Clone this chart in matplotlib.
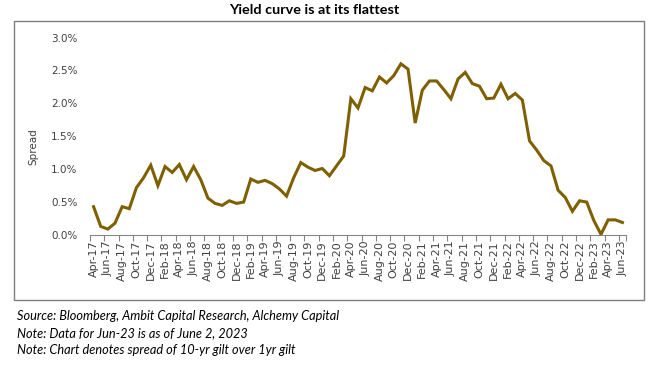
import matplotlib
matplotlib.use("Agg")
import matplotlib.pyplot as plt
from matplotlib.patches import Rectangle

months = ["Apr-17","May-17","Jun-17","Jul-17","Aug-17","Sep-17","Oct-17","Nov-17","Dec-17",
          "Jan-18","Feb-18","Mar-18","Apr-18","May-18","Jun-18","Jul-18","Aug-18","Sep-18","Oct-18","Nov-18","Dec-18",
          "Jan-19","Feb-19","Mar-19","Apr-19","May-19","Jun-19","Jul-19","Aug-19","Sep-19","Oct-19","Nov-19","Dec-19",
          "Jan-20","Feb-20","Mar-20","Apr-20","May-20","Jun-20","Jul-20","Aug-20","Sep-20","Oct-20","Nov-20","Dec-20",
          "Jan-21","Feb-21","Mar-21","Apr-21","May-21","Jun-21","Jul-21","Aug-21","Sep-21","Oct-21","Nov-21","Dec-21",
          "Jan-22","Feb-22","Mar-22","Apr-22","May-22","Jun-22","Jul-22","Aug-22","Sep-22","Oct-22","Nov-22","Dec-22",
          "Jan-23","Feb-23","Mar-23","Apr-23","May-23","Jun-23"]
spread = [0.43,0.13,0.09,0.18,0.43,0.40,0.72,0.87,1.06,
          0.75,1.04,0.95,1.07,0.84,1.04,0.84,0.56,0.48,0.45,0.52,0.48,
          0.50,0.85,0.80,0.83,0.78,0.70,0.59,0.87,1.10,1.03,0.98,1.01,
          0.90,1.05,1.20,2.07,1.93,2.24,2.19,2.40,2.31,2.42,2.60,2.52,
          1.70,2.20,2.34,2.34,2.21,2.07,2.37,2.47,2.30,2.26,2.07,2.08,
          2.29,2.07,2.15,2.05,1.43,1.29,1.13,1.05,0.68,0.57,0.36,0.52,
          0.50,0.22,0.01,0.23,0.23,0.19]
yticks = [0.0,0.5,1.0,1.5,2.0,2.5,3.0]
title = "Yield curve is at its flattest"
ylabel = "Spread"
notes = ["Source: Bloomberg, Ambit Capital Research, Alchemy Capital",
         "Note: Data for Jun-23 is as of June 2, 2023",
         "Note: Chart denotes spread of 10-yr gilt over 1yr gilt"]

W, H = 661, 371
fig = plt.figure(figsize=(W/100, H/100), dpi=100)
ax = fig.add_axes([90/W, 1-235/H, (626-90)/W, (235-37.5)/H])

x = list(range(len(months)))
ax.plot(x, spread, color="#7F6000", lw=2.2, solid_joinstyle="miter")
ax.set_xlim(-0.5, len(months)-0.5)
ax.set_ylim(0, 3.0)
ax.set_yticks(yticks)
ax.set_yticklabels([f"{v:.1f}%" for v in yticks])
ax.set_xticks(x[::2])
ax.set_xticklabels(months[::2], rotation=90)
ax.set_xticks([i-0.5 for i in range(0, len(months), 2)] + [len(months)-0.5], minor=True)
ax.tick_params(axis="x", which="major", length=0, pad=4, labelsize=8, labelcolor="#404040")
ax.tick_params(axis="x", which="minor", length=4, color="#868686", width=0.8)
ax.tick_params(axis="y", length=0, pad=9, labelsize=7.5, labelcolor="#404040")
for s in ["top", "right", "left"]:
    ax.spines[s].set_visible(False)
ax.spines["bottom"].set_color("#868686")
ax.spines["bottom"].set_linewidth(0.8)

fig.text(33/W, 1-147/H, ylabel, rotation=90, ha="center", va="center", fontsize=7.5, color="#404040")

fig.patches.append(Rectangle((14/W, 1-300/H), (644-14)/W, (300-21)/H, transform=fig.transFigure,
                             fill=False, edgecolor="#7f7f7f", lw=1.0))

fig.text(314/W, 1-10/H, title, ha="center", va="center", fontsize=10.4, fontweight="bold",
         family="Lato", color="#000000")
for i, n in enumerate(notes):
    fig.text(17/W, 1-(316+17*i)/H, n, ha="left", va="center", fontsize=9.2, style="italic",
             family="Lato", color="#000000")

fig.savefig("out.png", dpi=100)
